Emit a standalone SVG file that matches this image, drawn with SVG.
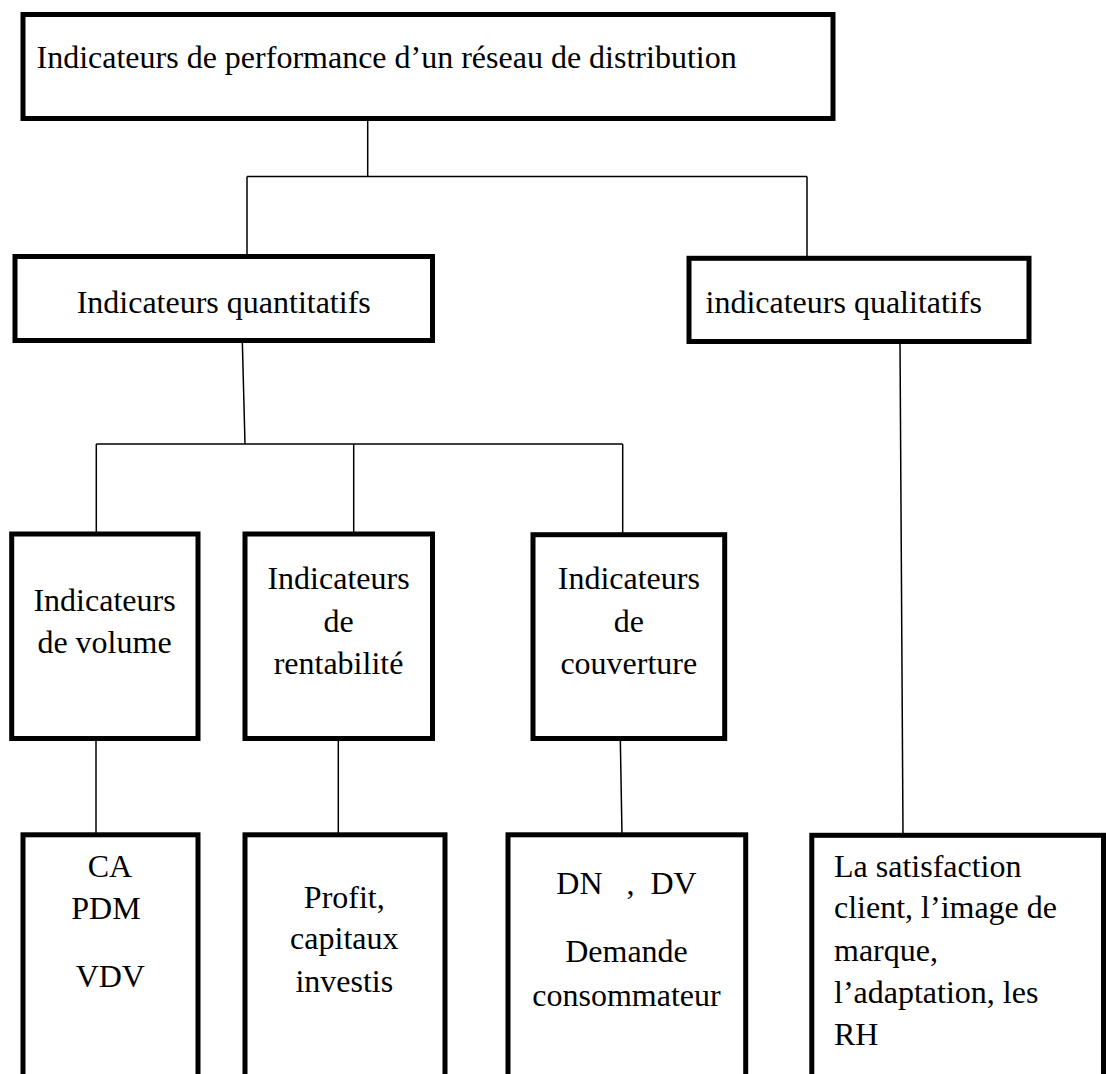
<svg xmlns="http://www.w3.org/2000/svg" width="1106" height="1074" viewBox="0 0 1106 1074">
<style>
.box{fill:#ffffff;stroke:#000000;stroke-width:5}
.t{font-family:"Liberation Serif","Times New Roman",serif;font-size:32px;fill:#000000}
.c{text-anchor:middle}
.ln{stroke:#000000;stroke-width:1.5;fill:none}
</style>
<rect width="1106" height="1074" fill="#ffffff"/>
<g id="connectors">
<line class="ln" x1="367.7" y1="118.5" x2="367.7" y2="176.5"/>
<line class="ln" x1="247" y1="176.5" x2="807" y2="176.5"/>
<line class="ln" x1="247" y1="176.5" x2="247" y2="256.5"/>
<line class="ln" x1="807" y1="176.5" x2="807" y2="258"/>
<line class="ln" x1="242.3" y1="340.5" x2="245" y2="444"/>
<line class="ln" x1="96.3" y1="444" x2="622.7" y2="444"/>
<line class="ln" x1="96.3" y1="444" x2="96.3" y2="534"/>
<line class="ln" x1="353.7" y1="444" x2="353.7" y2="534"/>
<line class="ln" x1="622.7" y1="444" x2="622.7" y2="534"/>
<line class="ln" x1="900" y1="341.5" x2="903" y2="835"/>
<line class="ln" x1="96" y1="738.5" x2="96" y2="835"/>
<line class="ln" x1="338.3" y1="738.5" x2="338.3" y2="835"/>
<line class="ln" x1="620.3" y1="738.5" x2="622" y2="835"/>
</g>
<g id="node-root">
<rect class="box" x="23" y="14.5" width="810" height="104"/>
<text class="t" x="36.5" y="68">Indicateurs de performance d’un réseau de distribution</text>
</g>
<g id="node-quantitatifs">
<rect class="box" x="15" y="256.5" width="417.5" height="84"/>
<text class="t c" x="223.7" y="313">Indicateurs quantitatifs</text>
</g>
<g id="node-qualitatifs">
<rect class="box" x="689" y="258.3" width="340" height="83.2"/>
<text class="t" x="705.5" y="313">indicateurs qualitatifs</text>
</g>
<g id="node-volume">
<rect class="box" x="11.7" y="534" width="186.3" height="204.5"/>
<text class="t c" x="104.5" y="610.7">Indicateurs</text>
<text class="t c" x="104.5" y="652.7">de volume</text>
</g>
<g id="node-rentabilite">
<rect class="box" x="245" y="534" width="187.5" height="204.5"/>
<text class="t c" x="338.5" y="589">Indicateurs</text>
<text class="t c" x="338.5" y="631.7">de</text>
<text class="t c" x="338.5" y="674.3">rentabilité</text>
</g>
<g id="node-couverture">
<rect class="box" x="533" y="534.7" width="191.7" height="203.8"/>
<text class="t c" x="628.8" y="589">Indicateurs</text>
<text class="t c" x="628.8" y="631.7">de</text>
<text class="t c" x="628.8" y="674.3">couverture</text>
</g>
<g id="node-ca">
<rect class="box" x="23" y="834.8" width="175" height="260"/>
<text class="t c" x="110" y="876.7">CA</text>
<text class="t c" x="106" y="919">PDM</text>
<text class="t c" x="110.3" y="987.3">VDV</text>
</g>
<g id="node-profit">
<rect class="box" x="245" y="834.8" width="200" height="260"/>
<text class="t c" x="344.3" y="907.7">Profit,</text>
<text class="t c" x="344.3" y="949">capitaux</text>
<text class="t c" x="344.3" y="992.3">investis</text>
</g>
<g id="node-dn">
<rect class="box" x="508" y="834.8" width="237.7" height="260"/>
<text class="t c" x="626.5" y="894" xml:space="preserve" style="white-space:pre">DN   ,  DV</text>
<text class="t c" x="626.5" y="961.7">Demande</text>
<text class="t c" x="626.5" y="1005.7">consommateur</text>
</g>
<g id="node-satisfaction">
<rect class="box" x="811.8" y="835.3" width="291.7" height="260"/>
<text class="t" x="834" y="876.7">La satisfaction</text>
<text class="t" x="834" y="918.3">client, l’image de</text>
<text class="t" x="834" y="960.7">marque,</text>
<text class="t" x="834" y="1003.3">l’adaptation, les</text>
<text class="t" x="834" y="1045">RH</text>
</g>
</svg>
